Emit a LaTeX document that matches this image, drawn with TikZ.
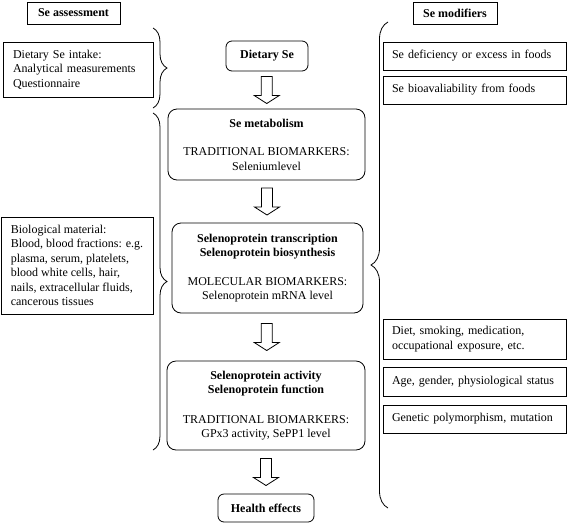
\documentclass[tikz,border=0pt]{standalone}
\usepackage{fontspec}
\setmainfont{Liberation Serif}
\usetikzlibrary{calc,decorations.pathreplacing}

\newcommand{\diagfont}{\fontsize{12}{14.5}\selectfont}
% hollow block arrow centred in the gap between two boxes
\newcommand{\hollowarrow}[2]{%
    \draw[flowarrow] let \p1=($(#1.south)!0.5!(#2.north)$) in
        (\x1-5.5pt,\y1+13.5pt) -- (\x1-5.5pt,\y1-5.5pt) -- (\x1-12.5pt,\y1-5.5pt)
        -- (\x1,\y1-13.5pt) -- (\x1+12.5pt,\y1-5.5pt) -- (\x1+5.5pt,\y1-5.5pt)
        -- (\x1+5.5pt,\y1+13.5pt) -- cycle;
}

\begin{document}
\begin{tikzpicture}[x=1pt, y=-1pt,
        every node/.style={font=\diagfont},
        headbox/.style={draw, line width=0.8pt, minimum height=22pt, inner sep=0pt, font=\diagfont\bfseries},
        stage/.style={draw, line width=0.8pt, rounded corners=9pt, align=center, inner sep=0pt},
        sidebox/.style={draw, line width=0.8pt, align=left, inner ysep=0pt},
        modbox/.style={draw, line width=0.9pt, align=left, text width=165pt, inner xsep=9pt, inner ysep=0pt, minimum height=#1},
        flowarrow/.style={draw, line width=0.8pt, fill=white},
        curly/.style={decorate, decoration={brace, amplitude=#1}, line width=0.8pt}]
    \useasboundingbox (0,0) rectangle (568,523);

    % headings
    \node[headbox, minimum width=93pt] (assess) at (73.5,13) {Se assessment};
    \node[headbox, minimum width=84pt] (modif) at (455,13) {Se modifiers};

    % assessment side
    \node[sidebox, text width=130pt, inner xsep=10pt, minimum height=55pt] (intake) at (78,69.5)
        {Dietary Se intake:\\ Analytical measurements\\ Questionnaire};
    \node[sidebox, minimum width=152pt, minimum height=97pt] (biomat) at (77,265.5)
        {Biological material:\\ Blood, blood fractions: e.g.\\ plasma, serum, platelets,\\
         blood white cells, hair,\\ nails, extracellular fluids,\\ cancerous tissues};

    % main chain
    \node[stage, rounded corners=6pt, minimum width=82pt, minimum height=30pt, font=\diagfont\bfseries] (dietse) at (267,56) {Dietary Se};
    \node[stage, minimum width=197pt, minimum height=71pt] (metab) at (266.5,144.5)
        {\textbf{Se metabolism}\\[14pt] TRADITIONAL BIOMARKERS:\\ Seleniumlevel};
    \node[stage, minimum width=191pt, minimum height=90pt] (transc) at (267.5,268)
        {\textbf{Selenoprotein transcription}\\ \textbf{Selenoprotein biosynthesis}\\[14pt]
         MOLECULAR BIOMARKERS:\\ Selenoprotein mRNA level};
    \node[stage, minimum width=198pt, minimum height=89pt] (activ) at (266,405.5)
        {\textbf{Selenoprotein activity}\\ \textbf{Selenoprotein function}\\[15pt]
         TRADITIONAL BIOMARKERS:\\ GPx3 activity, SePP1 level};
    \node[stage, rounded corners=6pt, minimum width=96pt, minimum height=28pt, font=\diagfont\bfseries] (health) at (266,508) {Health effects};

    \hollowarrow{dietse}{metab}
    \hollowarrow{metab}{transc}
    \hollowarrow{transc}{activ}
    \hollowarrow{activ}{health}

    % modifiers side
    \node[modbox=28pt] (mod1) at (474.5,56) {Se deficiency or excess in foods};
    \node[modbox=28pt] (mod2) at (474.5,90) {Se bioavaliability from foods};
    \node[modbox=40pt] (mod3) at (474.5,339) {Diet, smoking, medication,\\ occupational exposure, etc.};
    \node[modbox=29pt] (mod4) at (474.5,381.5) {Age, gender, physiological status};
    \node[modbox=28pt] (mod5) at (474.5,419) {Genetic polymorphism, mutation};

    % braces
    \draw[curly=14pt] (153,28) -- (153,108);
    \draw[curly=14pt] (153,113) -- (153,450);
    \draw[curly=17pt] (388,508) -- (388,22);
\end{tikzpicture}
\end{document}
